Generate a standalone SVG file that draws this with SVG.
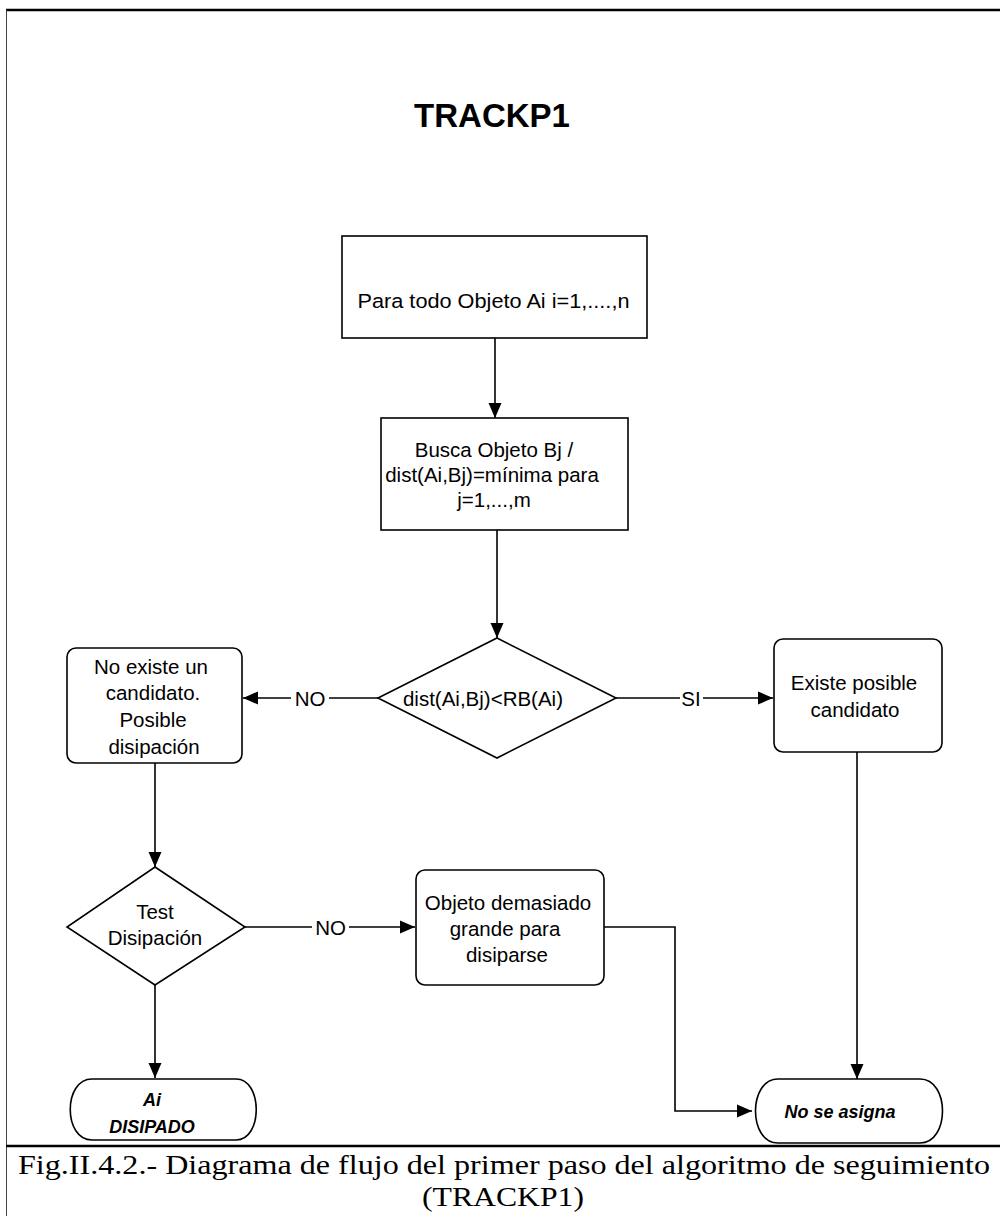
<svg xmlns="http://www.w3.org/2000/svg" width="1000" height="1216" viewBox="0 0 1000 1216">
  <style>
    .box { fill: #fff; stroke: #000; stroke-width: 1.6; }
    .lbl { font-family: "Liberation Sans", Arial, sans-serif; font-size: 20.5px; fill: #000; text-anchor: middle; }
    .term { font-family: "Liberation Sans", Arial, sans-serif; font-size: 18px; font-weight: bold; font-style: italic; fill: #000; text-anchor: middle; }
    .edge { fill: none; stroke: #000; stroke-width: 1.6; }
    .cap { font-family: "Liberation Serif", "Times New Roman", serif; font-size: 28px; fill: #000; text-anchor: middle; }
  </style>
  <defs>
    <marker id="arrow" markerUnits="userSpaceOnUse" markerWidth="16" markerHeight="16" viewBox="0 0 16 16" refX="15" refY="8" orient="auto">
      <path d="M0,1.5 L15,8 L0,14.5 Z" fill="#000"/>
    </marker>
  </defs>

  <rect x="0" y="0" width="1000" height="1216" fill="#fff"/>

  <!-- page frame -->
  <g id="frame">
    <line x1="6" y1="10" x2="1000" y2="10" stroke="#000" stroke-width="2.5"/>
    <line x1="6.5" y1="10" x2="6.5" y2="1216" stroke="#444" stroke-width="1"/>
    <line x1="6" y1="1146" x2="1000" y2="1146" stroke="#000" stroke-width="2.5"/>
  </g>

  <text id="title" x="492" y="127" font-family="'Liberation Sans', Arial, sans-serif" font-size="33" font-weight="bold" text-anchor="middle">TRACKP1</text>

  <!-- connectors -->
  <g id="connectors">
    <line class="edge" x1="495" y1="338" x2="495" y2="418" marker-end="url(#arrow)"/>
    <line class="edge" x1="497" y1="530" x2="497" y2="638" marker-end="url(#arrow)"/>
    <line class="edge" x1="378" y1="698" x2="329" y2="698"/>
    <line class="edge" x1="291" y1="698" x2="243" y2="698" marker-end="url(#arrow)"/>
    <text class="lbl" x="310" y="705.5">NO</text>
    <line class="edge" x1="616" y1="698" x2="680" y2="698"/>
    <line class="edge" x1="703" y1="698" x2="773" y2="698" marker-end="url(#arrow)"/>
    <text class="lbl" x="691" y="705.5">SI</text>
    <line class="edge" x1="155" y1="763" x2="155" y2="867" marker-end="url(#arrow)"/>
    <line class="edge" x1="245" y1="927" x2="312" y2="927"/>
    <line class="edge" x1="349" y1="927" x2="415" y2="927" marker-end="url(#arrow)"/>
    <text class="lbl" x="330.5" y="934.5">NO</text>
    <line class="edge" x1="155" y1="985" x2="155" y2="1078" marker-end="url(#arrow)"/>
    <polyline class="edge" points="604,927 675,927 675,1111 752,1111" marker-end="url(#arrow)"/>
    <line class="edge" x1="857" y1="752" x2="857" y2="1079" marker-end="url(#arrow)"/>
  </g>

  <g id="n-para">
    <rect class="box" x="342" y="236" width="305" height="102"/>
    <text class="lbl" x="493.5" y="308" textLength="272" lengthAdjust="spacingAndGlyphs">Para todo Objeto Ai i=1,....,n</text>
  </g>

  <g id="n-busca">
    <rect class="box" x="381" y="418" width="247" height="112"/>
    <text class="lbl" x="494" y="457">Busca Objeto Bj /</text>
    <text class="lbl" x="492" y="482">dist(Ai,Bj)=mínima para</text>
    <text class="lbl" x="494" y="507">j=1,...,m</text>
  </g>

  <g id="n-dist">
    <polygon class="box" points="497,638 616,698 497,758 378,698"/>
    <text class="lbl" x="483" y="705.5">dist(Ai,Bj)&lt;RB(Ai)</text>
  </g>

  <g id="n-noexiste">
    <rect class="box" x="67" y="648" width="175" height="115" rx="9"/>
    <text class="lbl" x="151" y="674">No existe un</text>
    <text class="lbl" x="153" y="700">candidato.</text>
    <text class="lbl" x="153" y="727">Posible</text>
    <text class="lbl" x="154" y="754">disipación</text>
  </g>

  <g id="n-existe">
    <rect class="box" x="774" y="639" width="168" height="113" rx="9"/>
    <text class="lbl" x="854" y="690">Existe posible</text>
    <text class="lbl" x="855" y="717">candidato</text>
  </g>

  <g id="n-test">
    <polygon class="box" points="155,867 245,927 155,985 67,927"/>
    <text class="lbl" x="155" y="919">Test</text>
    <text class="lbl" x="155" y="945">Disipación</text>
  </g>

  <g id="n-objeto">
    <rect class="box" x="416" y="870" width="188" height="115" rx="9"/>
    <text class="lbl" x="508" y="910">Objeto demasiado</text>
    <text class="lbl" x="505" y="936">grande para</text>
    <text class="lbl" x="507" y="962">disiparse</text>
  </g>

  <g id="n-disipado">
    <path class="box" d="M92,1079 H236 C263,1079 263,1140 236,1140 H92 C63,1140 63,1079 92,1079 Z"/>
    <text class="term" x="152" y="1106">Ai</text>
    <text class="term" x="152" y="1133">DISIPADO</text>
  </g>

  <g id="n-noasigna">
    <path class="box" d="M778,1079 H920 C950,1079 950,1143 920,1143 H778 C748,1143 748,1079 778,1079 Z"/>
    <text class="term" x="840" y="1118">No se asigna</text>
  </g>

  <g id="caption">
    <text class="cap" x="504" y="1174" textLength="972" lengthAdjust="spacingAndGlyphs">Fig.II.4.2.- Diagrama de flujo del primer paso del algoritmo de seguimiento</text>
    <text class="cap" x="503" y="1206" textLength="162" lengthAdjust="spacingAndGlyphs">(TRACKP1)</text>
  </g>
</svg>
